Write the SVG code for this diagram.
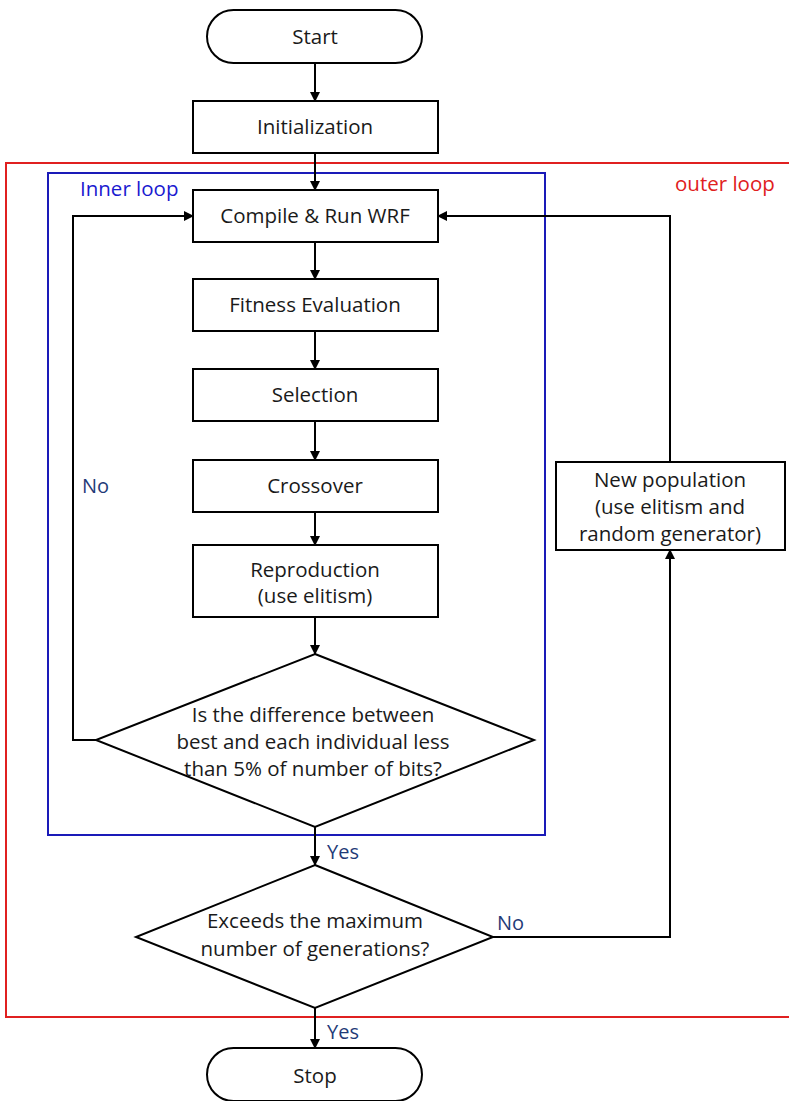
<svg xmlns="http://www.w3.org/2000/svg" width="789" height="1101" viewBox="0 0 789 1101">
<style>
.box{fill:#fff;stroke:#000;stroke-width:2}
.t{font-family:"Open Sans","Noto Sans",sans-serif;font-size:20.5px;fill:#1a1a1a;text-anchor:middle}
.lab{font-family:"Open Sans","Noto Sans",sans-serif;font-size:20px;fill:#1f3b78}
.c{fill:none;stroke:#000;stroke-width:2}
</style>
<defs>
<marker id="ah" viewBox="0 0 10 10" refX="9" refY="5" markerWidth="10" markerHeight="10" markerUnits="userSpaceOnUse" orient="auto">
<path d="M0,0 L10,5 L0,10 z" fill="#000"/>
</marker>
</defs>
<rect width="789" height="1101" fill="#fff"/>
<g id="outer-loop">
<rect x="6" y="163" width="800" height="854" fill="none" stroke="#e02020" stroke-width="2"/>
<text x="675" y="191" font-family="'Open Sans','Noto Sans',sans-serif" font-size="20.5" fill="#e02020">outer loop</text>
</g>
<g id="inner-loop">
<rect x="48" y="173" width="497" height="662" fill="none" stroke="#1a1ab8" stroke-width="2"/>
<text x="80" y="196" font-family="'Open Sans','Noto Sans',sans-serif" font-size="20.5" fill="#1a1ad0">Inner loop</text>
</g>
<g id="connectors">
<path class="c" d="M315,63 V101" marker-end="url(#ah)"/>
<path class="c" d="M315,153 V190" marker-end="url(#ah)"/>
<path class="c" d="M315,242 V279" marker-end="url(#ah)"/>
<path class="c" d="M315,331 V369" marker-end="url(#ah)"/>
<path class="c" d="M315,421 V460" marker-end="url(#ah)"/>
<path class="c" d="M315,512 V545" marker-end="url(#ah)"/>
<path class="c" d="M315,617 V654" marker-end="url(#ah)"/>
<path class="c" d="M96,740 H73 V216 H193" marker-end="url(#ah)"/>
<path class="c" d="M315,827 V865" marker-end="url(#ah)"/>
<path class="c" d="M493,937 H670 V550" marker-end="url(#ah)"/>
<path class="c" d="M670,462 V216 H438" marker-end="url(#ah)"/>
<path class="c" d="M315,1008 V1048" marker-end="url(#ah)"/>
<text class="lab" x="82" y="493">No</text>
<text class="lab" x="327" y="859">Yes</text>
<text class="lab" x="497" y="930">No</text>
<text class="lab" x="327" y="1039">Yes</text>
</g>
<g id="start">
<rect class="box" x="207" y="10" width="215" height="53" rx="26.5"/>
<text class="t" x="315" y="44">Start</text>
</g>
<g id="init">
<rect class="box" x="193" y="101" width="245" height="52"/>
<text class="t" x="315" y="134">Initialization</text>
</g>
<g id="compile">
<rect class="box" x="193" y="190" width="245" height="52"/>
<text class="t" x="315" y="223">Compile &amp; Run WRF</text>
</g>
<g id="fitness">
<rect class="box" x="193" y="279" width="245" height="52"/>
<text class="t" x="315" y="312">Fitness Evaluation</text>
</g>
<g id="selection">
<rect class="box" x="193" y="369" width="245" height="52"/>
<text class="t" x="315" y="402">Selection</text>
</g>
<g id="crossover">
<rect class="box" x="193" y="460" width="245" height="52"/>
<text class="t" x="315" y="493">Crossover</text>
</g>
<g id="reproduction">
<rect class="box" x="193" y="545" width="245" height="72"/>
<text class="t" x="315" y="577">Reproduction</text>
<text class="t" x="315" y="603">(use elitism)</text>
</g>
<g id="check-diff">
<polygon class="box" points="315,654 534,740 315,827 96,740"/>
<text class="t" x="313" y="722">Is the difference between</text>
<text class="t" x="313" y="749">best and each individual less</text>
<text class="t" x="313" y="776">than 5% of number of bits?</text>
</g>
<g id="check-gen">
<polygon class="box" points="315,865 493,937 315,1008 136,937"/>
<text class="t" x="315" y="928">Exceeds the maximum</text>
<text class="t" x="315" y="956">number of generations?</text>
</g>
<g id="new-pop">
<rect class="box" x="556" y="462" width="229" height="88"/>
<text class="t" x="670" y="487">New population</text>
<text class="t" x="670" y="514">(use elitism and</text>
<text class="t" x="670" y="541">random generator)</text>
</g>
<g id="stop">
<rect class="box" x="207" y="1048" width="215" height="53" rx="26.5"/>
<text class="t" x="315" y="1083">Stop</text>
</g>
</svg>
